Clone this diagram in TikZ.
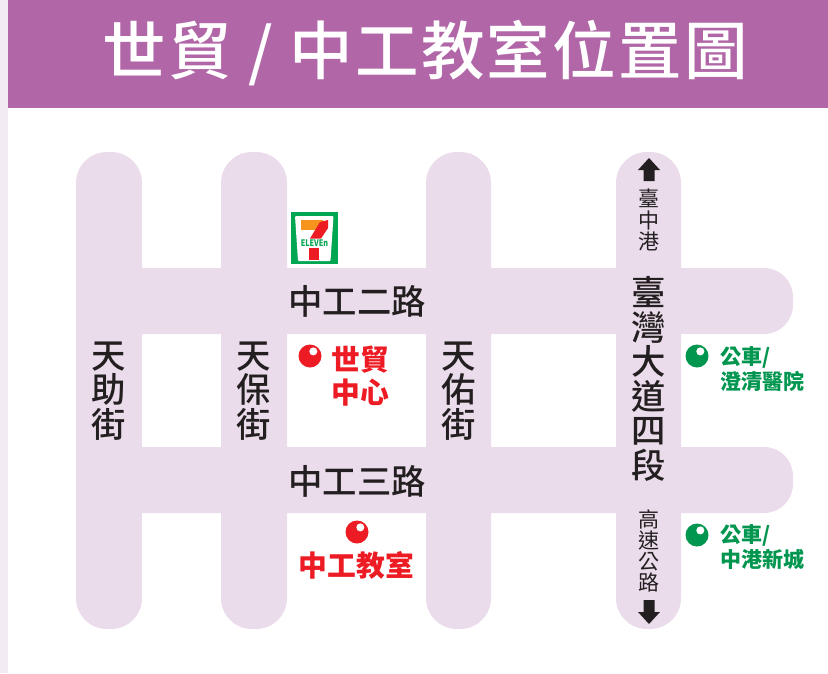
\documentclass[tikz,border=0pt]{standalone}
\usepackage{fontspec}
\newfontfamily\cjk{Noto Sans CJK TC}
\newfontfamily\cjkm{Noto Sans CJK TC Medium}
\newfontfamily\cjkt[LetterSpace=3.6]{Noto Sans CJK TC Medium}
\definecolor{road}{HTML}{EADCEB}
\definecolor{band}{HTML}{B167A7}
\definecolor{edge}{HTML}{F3EBF4}
\definecolor{ink}{HTML}{231F20}
\definecolor{pinred}{HTML}{ED1C24}
\definecolor{pingreen}{HTML}{00964F}
\definecolor{sevgreen}{HTML}{00A651}
\definecolor{sevorange}{HTML}{F7941D}
\newcommand{\fs}[2]{\fontsize{#1}{#2}\selectfont}
\tikzset{
  x=1pt,y=-1pt,
  txt/.style={inner sep=0pt,align=center,text=ink,font=\cjkm\fs{34.4}{34.6}},
  small/.style={inner sep=0pt,align=center,text=ink,font=\cjk\fs{21}{21.3}},
  redlab/.style={inner sep=0pt,align=left,text=pinred,font=\cjk\bfseries\fs{28.8}{33}},
  greenlab/.style={inner sep=0pt,align=left,text=pingreen,font=\cjk\bfseries\fs{21}{25}},
}
\newcommand{\pin}[4]{% x y r colour
  \fill[#4] (#1,#2) circle[radius=#3];
  \fill[white] (#1+0.29*#3,#2-0.4*#3) circle[radius=0.35*#3];
}
\begin{document}
\begin{tikzpicture}
\useasboundingbox (0,0) rectangle (828,673);
\fill[white] (0,0) rectangle (828,673);
\fill[edge] (0,0) rectangle (8,673);
\fill[band] (8,0) rectangle (828,108);
% roads
\fill[road,rounded corners=31] (76,152) rectangle (142,629);
\fill[road,rounded corners=31] (221,152) rectangle (287,629);
\fill[road,rounded corners=31] (426,152) rectangle (491,629);
\fill[road,rounded corners=31] (616,152) rectangle (681,629);
\fill[road,rounded corners=29] (110,268) rectangle (793,334);
\fill[road,rounded corners=29] (110,447) rectangle (793,513);
\fill[road] (100,268) rectangle (140,334);
\fill[road] (100,447) rectangle (140,513);
% title
\node[inner sep=0pt,text=white,font=\cjkt\fs{63.5}{63.5}] (title) at (425,53) {世貿 / 中工教室位置圖};
% street names
\node[txt] (s1) at (109,391) {天\\助\\街};
\node[txt] (s2) at (254,391) {天\\保\\街};
\node[txt] (s3) at (459,391) {天\\佑\\街};
\node[txt] (r1) at (357,301) {中工二路};
\node[txt] (r2) at (357,481) {中工三路};
\node[txt] (r3) at (649,379) {臺\\灣\\大\\道\\四\\段};
\node[small] (n1) at (649,220) {臺\\中\\港};
\node[small] (n2) at (649,551) {高\\速\\公\\路};
% arrows
\fill[ink] (649,158) -- (660,170) -- (654.5,170) -- (654.5,181) -- (643.5,181) -- (643.5,170) -- (638,170) -- cycle;
\fill[ink] (649,624) -- (660,612) -- (654.5,612) -- (654.5,600) -- (643.5,600) -- (643.5,612) -- (638,612) -- cycle;
% markers
\pin{310}{356}{11.5}{pinred}
\pin{357}{532}{11.5}{pinred}
\pin{697}{356}{11.5}{pingreen}
\pin{697}{535}{11.5}{pingreen}
\node[redlab,anchor=west] (p1) at (331.5,376) {世貿\\中心};
\node[inner sep=0pt,text=pinred,font=\cjk\bfseries\fs{28.8}{33}] (p2) at (356.5,565) {中工教室};
\node[greenlab,anchor=west] (b1) at (720,369) {公車/\\澄清醫院};
\node[greenlab,anchor=west] (b2) at (720,547) {公車/\\中港新城};
% 7-eleven
\fill[sevgreen] (291,212) rectangle (338,264);
\fill[white,rounded corners=1] (295,216) -- (333.5,216) -- (330.5,261) -- (298,261) -- cycle;
\fill[sevorange] (301,220) rectangle (323,229.5);
\fill[pinred] (310,238.5) -- (320,222) -- (328,220) -- (328,228) -- (321,238.5) -- cycle;
\fill[pinred] (309,248) rectangle (319,260);
\node[inner sep=0pt,text=sevgreen,font=\cjk\bfseries\fs{9}{9},xscale=0.8] (sev) at (314.5,243.5) {ELEVEn};
\end{tikzpicture}
\end{document}
